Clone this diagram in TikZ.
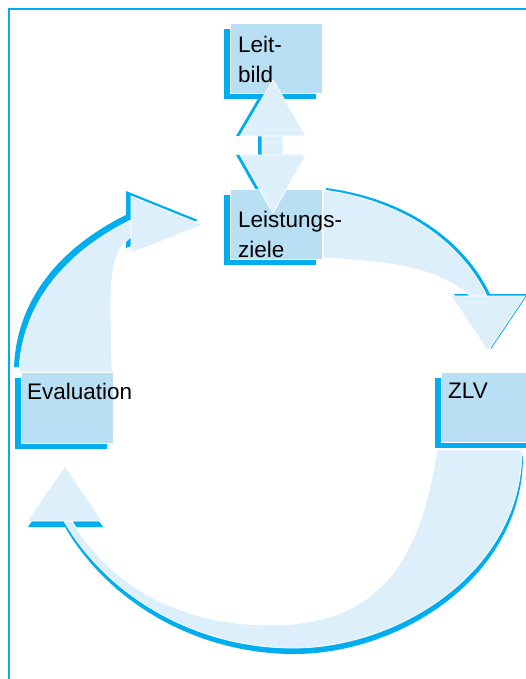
\documentclass[tikz,border=0pt]{standalone}
\usepackage{fontspec}
\setmainfont{Liberation Sans}
\usetikzlibrary{calc}
\definecolor{cyanline}{RGB}{0,174,239}
\definecolor{boxblue}{RGB}{185,223,245}
\definecolor{arrowblue}{RGB}{221,239,251}
\newcommand{\panel}[2]{
	\fill[cyanline] ($#1+(-6,6)$) rectangle ($#2+(-6,6)$);
	\filldraw[fill=boxblue, draw=white, line width=0.8pt] #1 rectangle #2;
}
\newcommand{\bodyA}{(19,372) .. controls (22,300) and (70,250) .. (131,220) -- (131,237) .. controls (112,250) and (110,280) .. (111,320) -- (112,372) -- cycle}
\newcommand{\headA}{(131,196) -- (203,225) -- (131,253) -- cycle}
\newcommand{\bodyB}{(323,190) .. controls (400,200) and (460,240) .. (487,296) -- (470,296) .. controls (440,270) and (400,262) .. (323,258) -- cycle}
\newcommand{\headB}{(451,296) -- (525,296) -- (488,351) -- cycle}
\newcommand{\bodyC}{(437,450) -- (522,450) .. controls (522,570) and (400,648) .. (293,648) .. controls (200,648) and (110,600) .. (64,521) -- (72,521) .. controls (110,585) and (180,625) .. (270,625) .. controls (380,625) and (420,560) .. (437,450) -- cycle}
\newcommand{\headC}{(27,521) -- (65,466) -- (102,521) -- cycle}
\newcommand{\linkUD}{(240,136) -- (273,80) -- (306,136) -- cycle (262,136) rectangle (283,155) (240,155) -- (306,155) -- (273,213) -- cycle}

\begin{document}
\begin{tikzpicture}[x=1pt,y=-1pt,
	lightarrow/.style={fill=arrowblue, draw=white, line width=0.8pt},
	paneltext/.style={anchor=base west, inner sep=0pt, align=left, font=\fontsize{22.5}{30}\selectfont}]
	\useasboundingbox (0,0) rectangle (525,679);
	\draw[cyanline, line width=2pt] (530,9) -- (9,9) -- (9,685);

	\fill[cyanline, shift={(-5,-5)}] \bodyA \headA;
	\fill[cyanline, shift={(3,-2)}] \bodyB \headB;
	\fill[cyanline, shift={(1,6)}] \bodyC \headC;
	\fill[cyanline, shift={(-4,0)}] \linkUD;

	\panel{(230,23)}{(322,93)}
	\panel{(230,189)}{(322,259)}
	\panel{(21,372)}{(113,443)}
	\panel{(441,372)}{(540,442)}

	\path[lightarrow] \bodyA;
	\path[lightarrow] \headA;
	\path[lightarrow] \bodyB;
	\path[lightarrow] \headB;
	\path[lightarrow] \bodyC;
	\path[lightarrow] \headC;
	\path[lightarrow] \linkUD;

	\node[paneltext] (leitbild) at (238,83) {Leit-\\bild};
	\node[paneltext] (ziele) at (238,257) {Leistungs-\\ziele};
	\node[paneltext] (evaluation) at (27,399) {Evaluation};
	\node[paneltext] (zlv) at (448,398) {ZLV};
\end{tikzpicture}
\end{document}
